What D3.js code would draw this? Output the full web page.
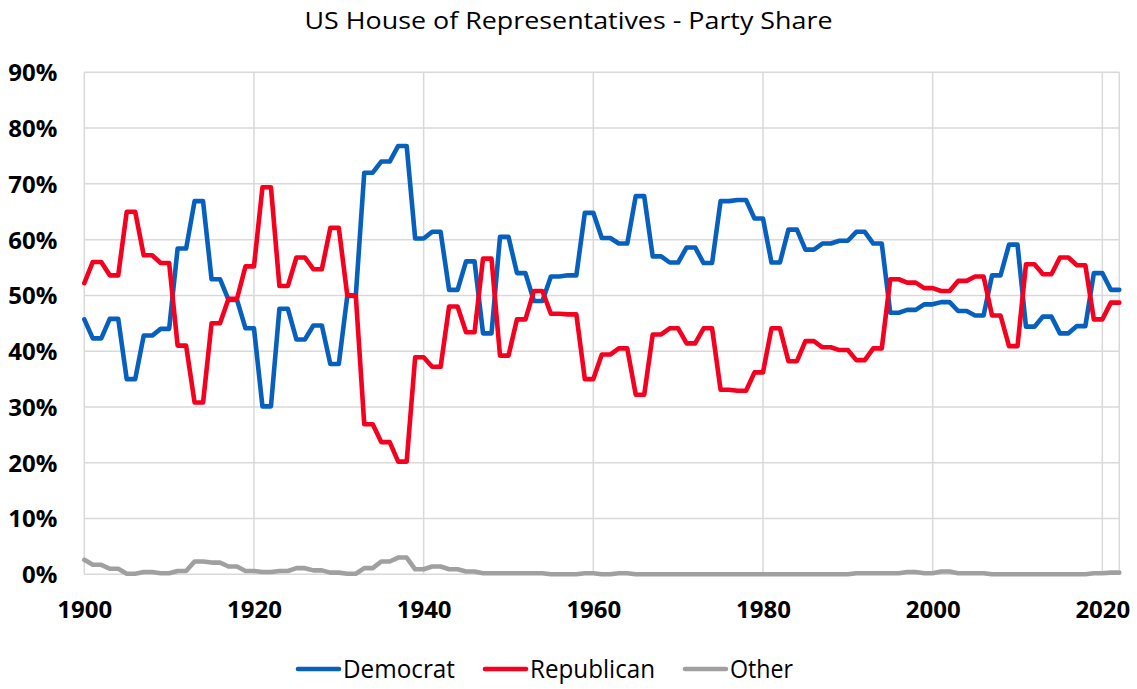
<!DOCTYPE html>
<html>
<head>
<meta charset="utf-8">
<script src="https://cdn.jsdelivr.net/npm/d3@7"></script>
<style>
  html, body { margin: 0; padding: 0; background: #fff; }
  svg { display: block; }
  text { font-family: "Open Sans", "Noto Sans", sans-serif; fill: #000; }
</style>
</head>
<body>
<svg id="chart" width="1137" height="689"></svg>
<script>
// ---- Data (share of House seats, %) ----
const years = d3.range(1900, 2023); // 1900 ... 2022, one point per year
const democrat = [
  45.7, 42.3, 42.3, 45.8, 45.8, 35.0, 35.0, 42.8, 42.8, 44.0,
  44.0, 58.4, 58.4, 66.9, 66.9, 52.9, 52.9, 49.2, 49.2, 44.1,
  44.1, 30.1, 30.1, 47.6, 47.6, 42.1, 42.1, 44.6, 44.6, 37.7,
  37.7, 49.9, 49.9, 72.0, 72.0, 74.0, 74.0, 76.8, 76.8, 60.2,
  60.2, 61.4, 61.4, 51.0, 51.0, 56.1, 56.1, 43.2, 43.2, 60.5,
  60.5, 54.0, 54.0, 49.0, 49.0, 53.4, 53.4, 53.6, 53.6, 64.8,
  64.8, 60.3, 60.3, 59.3, 59.3, 67.8, 67.8, 57.0, 57.0, 55.9,
  55.9, 58.6, 58.6, 55.8, 55.8, 66.9, 66.9, 67.1, 67.1, 63.8,
  63.8, 55.9, 55.9, 61.8, 61.8, 58.2, 58.2, 59.3, 59.3, 59.8,
  59.8, 61.4, 61.4, 59.3, 59.3, 46.9, 46.9, 47.4, 47.4, 48.4,
  48.4, 48.8, 48.8, 47.2, 47.2, 46.4, 46.4, 53.6, 53.6, 59.1,
  59.1, 44.4, 44.4, 46.2, 46.2, 43.2, 43.2, 44.5, 44.5, 54.0,
  54.0, 51.0, 51.0
];
const republican = [
  52.2, 56.0, 56.0, 53.6, 53.6, 65.0, 65.0, 57.2, 57.2, 55.8,
  55.8, 41.0, 41.0, 30.8, 30.8, 45.0, 45.0, 49.4, 49.4, 55.2,
  55.2, 69.4, 69.4, 51.7, 51.7, 56.8, 56.8, 54.7, 54.7, 62.1,
  62.1, 50.0, 50.0, 26.9, 26.9, 23.7, 23.7, 20.2, 20.2, 38.9,
  38.9, 37.2, 37.2, 48.0, 48.0, 43.4, 43.4, 56.6, 56.6, 39.2,
  39.2, 45.7, 45.7, 50.8, 50.8, 46.7, 46.7, 46.6, 46.6, 35.0,
  35.0, 39.4, 39.4, 40.5, 40.5, 32.2, 32.2, 43.0, 43.0, 44.1,
  44.1, 41.4, 41.4, 44.1, 44.1, 33.1, 33.1, 32.9, 32.9, 36.2,
  36.2, 44.1, 44.1, 38.2, 38.2, 41.8, 41.8, 40.7, 40.7, 40.2,
  40.2, 38.4, 38.4, 40.5, 40.5, 52.9, 52.9, 52.3, 52.3, 51.3,
  51.3, 50.8, 50.8, 52.6, 52.6, 53.4, 53.4, 46.4, 46.4, 40.9,
  40.9, 55.6, 55.6, 53.8, 53.8, 56.8, 56.8, 55.4, 55.4, 45.7,
  45.7, 48.7, 48.7
];
const other = [
  2.6, 1.7, 1.7, 1.0, 1.0, 0.1, 0.1, 0.4, 0.4, 0.2,
  0.2, 0.6, 0.6, 2.3, 2.3, 2.1, 2.1, 1.4, 1.4, 0.6,
  0.6, 0.4, 0.4, 0.6, 0.6, 1.1, 1.1, 0.7, 0.7, 0.3,
  0.3, 0.1, 0.1, 1.1, 1.1, 2.3, 2.3, 3.0, 3.0, 0.9,
  0.9, 1.4, 1.4, 0.9, 0.9, 0.5, 0.5, 0.2, 0.2, 0.2,
  0.2, 0.2, 0.2, 0.2, 0.2, 0.0, 0.0, 0.0, 0.0, 0.2,
  0.2, 0.0, 0.0, 0.2, 0.2, 0.0, 0.0, 0.0, 0.0, 0.0,
  0.0, 0.0, 0.0, 0.0, 0.0, 0.0, 0.0, 0.0, 0.0, 0.0,
  0.0, 0.0, 0.0, 0.0, 0.0, 0.0, 0.0, 0.0, 0.0, 0.0,
  0.0, 0.2, 0.2, 0.2, 0.2, 0.2, 0.2, 0.4, 0.4, 0.2,
  0.2, 0.5, 0.5, 0.2, 0.2, 0.2, 0.2, 0.0, 0.0, 0.0,
  0.0, 0.0, 0.0, 0.0, 0.0, 0.0, 0.0, 0.0, 0.0, 0.2,
  0.2, 0.3, 0.3
];
const xTicks = [1900, 1920, 1940, 1960, 1980, 2000, 2020];
const yTicks = [0, 10, 20, 30, 40, 50, 60, 70, 80, 90];
const seriesNames = ["Democrat", "Republican", "Other"];
const seriesColors = ["#0760BE", "#F5001E", "#A0A0A0"];
const titleText = "US House of Representatives - Party Share";

// ---- Layout ----
const svg = d3.select("#chart");
const plot = { left: 84.3, right: 1119.3, top: 72.3, bottom: 574.3 };

const x = d3.scaleLinear().domain([1900, 2022]).range([plot.left, plot.right]);
const y = d3.scaleLinear().domain([0, 90]).range([plot.bottom, plot.top]);

// Title
svg.append("text")
  .attr("x", 568.5).attr("y", 29)
  .attr("text-anchor", "middle")
  .attr("textLength", 528).attr("lengthAdjust", "spacingAndGlyphs")
  .style("font-size", "24px")
  .text(titleText);

// Gridlines
const grid = svg.append("g").attr("class", "grid");
grid.selectAll("line.h").data(yTicks).join("line")
  .attr("class", "h")
  .attr("x1", plot.left).attr("x2", plot.right)
  .attr("y1", d => y(d)).attr("y2", d => y(d))
  .attr("stroke", "#D9D9D9").attr("stroke-width", 1.5);
grid.selectAll("line.v").data(xTicks.concat([2022])).join("line")
  .attr("class", "v")
  .attr("y1", plot.top).attr("y2", plot.bottom)
  .attr("x1", d => x(d)).attr("x2", d => x(d))
  .attr("stroke", "#D9D9D9").attr("stroke-width", 1.5);

// Axes (labels only)
const yAxis = d3.axisLeft(y).tickValues(yTicks).tickFormat(d => d + "%").tickSize(0).tickPadding(27);
const gy = svg.append("g").attr("transform", `translate(${plot.left},0)`).call(yAxis);
gy.select(".domain").remove();
gy.selectAll("text")
  .style("font-size", "24px").style("font-weight", "700")
  .style("font-family", '"Open Sans", sans-serif')
  .attr("dy", "0.35em");

const xAxis = d3.axisBottom(x).tickValues(xTicks).tickFormat(d3.format("d")).tickSize(0).tickPadding(27);
const gx = svg.append("g").attr("transform", `translate(0,${plot.bottom})`).call(xAxis);
gx.select(".domain").remove();
gx.selectAll("text")
  .style("font-size", "24px").style("font-weight", "700")
  .style("font-family", '"Open Sans", sans-serif');

// Lines (Democrat, Republican, Other drawn in that order)
const series = [democrat, republican, other];
const line = d3.line().x((d, i) => x(years[i])).y(d => y(d)).curve(d3.curveLinear);
series.forEach((vals, k) => {
  svg.append("path")
    .datum(vals)
    .attr("d", line)
    .attr("fill", "none")
    .attr("stroke", seriesColors[k])
    .attr("stroke-width", 4.6)
    .attr("stroke-linejoin", "round")
    .attr("stroke-linecap", "round");
});

// Legend
const legendItems = [
  { name: seriesNames[0], color: seriesColors[0], x0: 298, w: 112 },
  { name: seriesNames[1], color: seriesColors[1], x0: 485, w: 125 },
  { name: seriesNames[2], color: seriesColors[2], x0: 685, w: 63 }
];
const lg = svg.append("g");
legendItems.forEach(it => {
  lg.append("line")
    .attr("x1", it.x0).attr("x2", it.x0 + 41)
    .attr("y1", 669).attr("y2", 669)
    .attr("stroke", it.color).attr("stroke-width", 4.6).attr("stroke-linecap", "round");
  lg.append("text")
    .attr("x", it.x0 + 45).attr("y", 678)
    .attr("textLength", it.w).attr("lengthAdjust", "spacingAndGlyphs")
    .style("font-size", "25px")
    .text(it.name);
});
</script>
</body>
</html>
